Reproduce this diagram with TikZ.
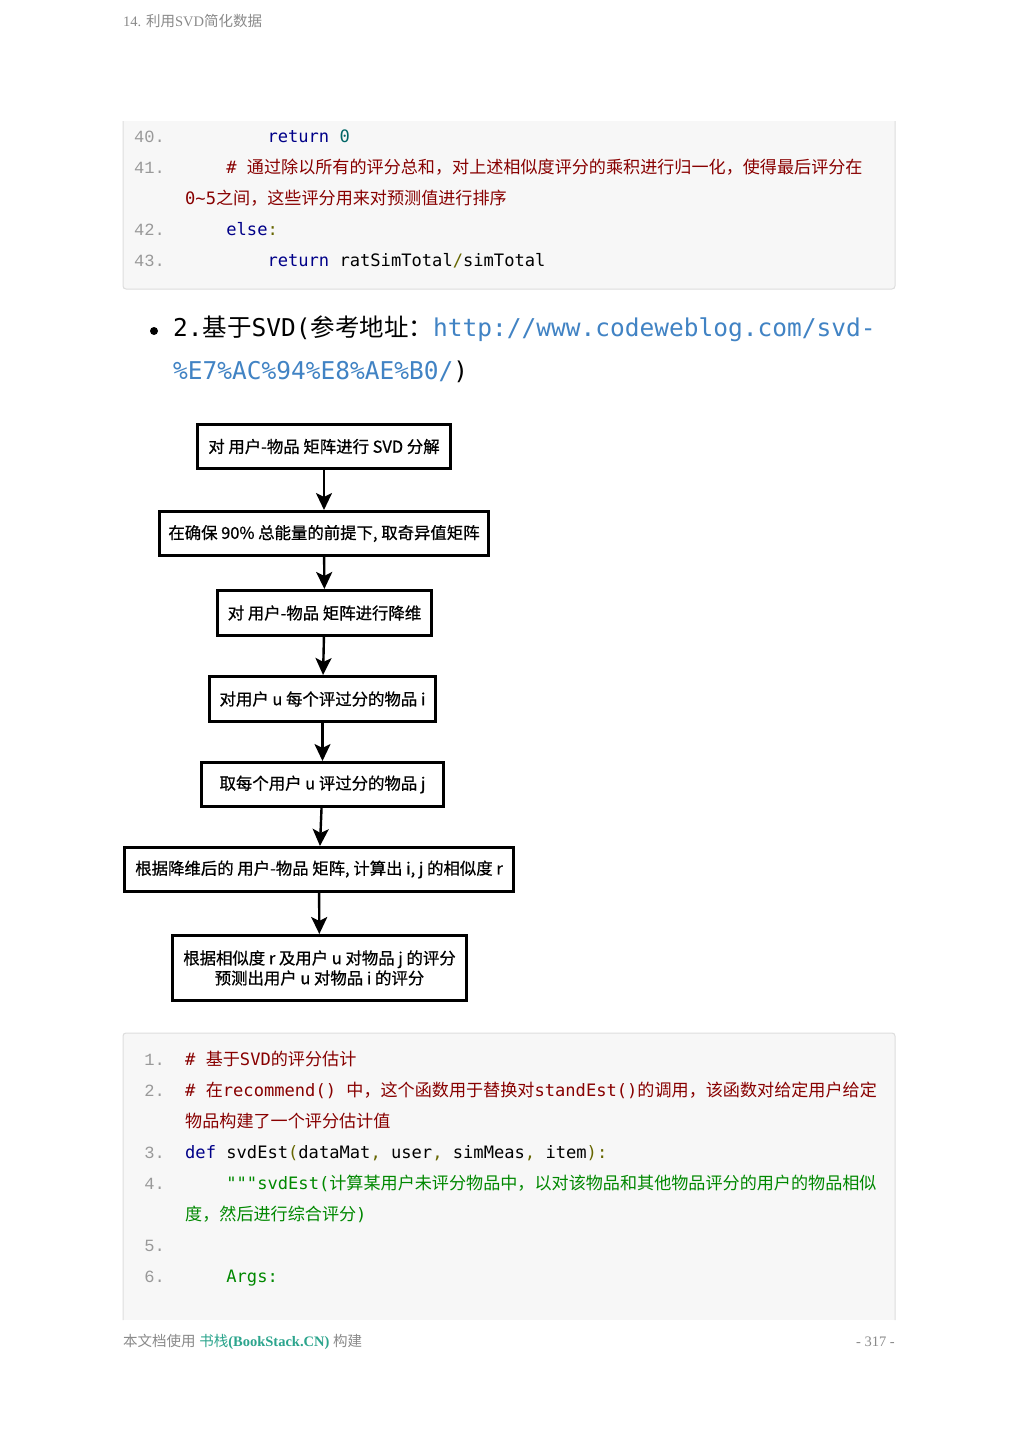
\documentclass[tikz,border=0pt]{standalone}
\usepackage{fontspec}
\setmainfont{Liberation Serif}
\newfontfamily\cjk{Noto Sans CJK SC}
\newfontfamily\flowfont[FakeBold=0.7]{Noto Sans CJK SC}
\newfontfamily\codefont{DejaVu Sans Mono}
\newfontfamily\numfont{Liberation Mono}
\usetikzlibrary{arrows.meta}
\definecolor{kwd}{HTML}{000088}
\definecolor{com}{HTML}{880000}
\definecolor{lit}{HTML}{006666}
\definecolor{pun}{HTML}{666600}
\definecolor{str}{HTML}{008800}
\definecolor{lnum}{HTML}{999999}
\definecolor{codebg}{HTML}{F7F7F7}
\definecolor{codeedge}{HTML}{DDDDDD}
\definecolor{linkblue}{HTML}{4183C4}
\definecolor{headgray}{HTML}{8A8A8A}
\definecolor{stackgreen}{HTML}{2CA58D}
\newcommand\kw[1]{\textcolor{kwd}{#1}}
\newcommand\cm[1]{\textcolor{com}{#1}}
\newcommand\lt[1]{\textcolor{lit}{#1}}
\newcommand\pn[1]{\textcolor{pun}{#1}}
\newcommand\st[1]{\textcolor{str}{#1}}
\tikzset{
  pagetext/.style={inner sep=0pt, text=headgray, font=\fontsize{14.5}{14.5}\selectfont},
  codetext/.style={anchor=base west, inner sep=0pt, font=\codefont\fontsize{17.1}{17.1}\selectfont},
  codeno/.style={anchor=base east, inner sep=0pt, text=lnum, font=\numfont\fontsize{17.1}{17.1}\selectfont},
  codebox/.style={draw=codeedge, line width=1pt, rounded corners=3pt},
  flowbox/.style={draw, line width=3pt, inner sep=0pt, align=center, font=\flowfont\fontsize{16.4}{20}\selectfont},
  flowarrow/.style={line width=2.4pt, -{Stealth[length=17pt,width=16pt,inset=4pt]}},
}

\begin{document}
\begin{tikzpicture}[x=1pt,y=-1pt]
  \useasboundingbox (0,0) rectangle (1019,1440);
  \fill[white] (0,0) rectangle (1019,1440);

  % page header
  \node[pagetext,anchor=base west] (head) at (123,27) {14. {\cjk 利用}SVD{\cjk 简化数据}};

  % code block, continued from the page before
  \fill[codebg] (123,121) rectangle (895,289);
  \draw[codebox] (123,121) -- (123,289) -- (895,289) -- (895,121);
  \node[codeno] (n40) at (165,142) {40.};
  \node[codeno] (n41) at (165,173) {41.};
  \node[codeno] (n42) at (165,235) {42.};
  \node[codeno] (n43) at (165,266) {43.};
  \node[codetext] (c40) at (267.3,142) {\kw{return} \lt{0}};
  \node[codetext] (c41) at (226.2,173) {\cm{\# {\cjk 通过除以所有的评分总和，对上述相似度评分的乘积进行归一化，使得最后评分在}}};
  \node[codetext] (c41b) at (185,204) {\cm{0\symbol{126}5{\cjk 之间，这些评分用来对预测值进行排序}}};
  \node[codetext] (c42) at (226.2,235) {\kw{else}\pn{:}};
  \node[codetext] (c43) at (267.3,266) {\kw{return} ratSimTotal\pn{/}simTotal};

  % list item
  \node[circle,fill,inner sep=0pt,minimum size=8pt] (dot) at (154,331) {};
  \node[anchor=base west,inner sep=0pt,font=\codefont\fontsize{24.5}{24.5}\selectfont] (item)
    at (173,336) {2.{\cjk 基于}SVD({\cjk 参考地址：}\textcolor{linkblue}{http://www.codeweblog.com/svd-}};
  \node[anchor=base west,inner sep=0pt,font=\codefont\fontsize{24.5}{24.5}\selectfont] (itemb)
    at (173,379) {\textcolor{linkblue}{\%E7\%AC\%94\%E8\%AE\%B0/})};

  % flow chart
  \node[flowbox,minimum width=253pt,minimum height=44pt] (svd) at (324,446.5) {对 用户-物品 矩阵进行 SVD 分解};
  \node[flowbox,minimum width=329pt,minimum height=44pt] (sigma) at (324,533.5) {在确保 90\% 总能量的前提下, 取奇异值矩阵};
  \node[flowbox,minimum width=214pt,minimum height=45pt] (reduce) at (324.5,613) {对 用户-物品 矩阵进行降维};
  \node[flowbox,minimum width=226pt,minimum height=45pt] (itemi) at (322.5,699) {对用户 u 每个评过分的物品 i};
  \node[flowbox,minimum width=242pt,minimum height=44pt] (itemj) at (322.5,784.5) {取每个用户 u 评过分的物品 j};
  \node[flowbox,minimum width=389pt,minimum height=44pt] (simr) at (319,869.5) {根据降维后的 用户-物品 矩阵, 计算出 i, j 的相似度 r};
  \node[flowbox,minimum width=294pt,minimum height=65pt] (pred) at (319.5,968) {根据相似度 r 及用户 u 对物品 j 的评分\\预测出用户 u 对物品 i 的评分};
  \draw[flowarrow] (svd) -- (sigma);
  \draw[flowarrow] (sigma) -- (reduce);
  \draw[flowarrow] (reduce) -- (itemi);
  \draw[flowarrow] (itemi) -- (itemj);
  \draw[flowarrow] (itemj) -- (simr);
  \draw[flowarrow] (simr) -- (pred);

  % code block, goes on to the next page
  \fill[codebg] (123,1033) rectangle (895,1320);
  \draw[codebox] (123,1320) -- (123,1033) -- (895,1033) -- (895,1320);
  \node[codeno] (n1) at (165,1065) {1.};
  \node[codeno] (n2) at (165,1096) {2.};
  \node[codeno] (n3) at (165,1158) {3.};
  \node[codeno] (n4) at (165,1189) {4.};
  \node[codeno] (n5) at (165,1251) {5.};
  \node[codeno] (n6) at (165,1282) {6.};
  \node[codetext] (c1) at (185,1065) {\cm{\# {\cjk 基于}SVD{\cjk 的评分估计}}};
  \node[codetext] (c2) at (185,1096) {\cm{\# {\cjk 在}recommend() {\cjk 中，这个函数用于替换对}standEst(){\cjk 的调用，该函数对给定用户给定}}};
  \node[codetext] (c2b) at (185,1127) {\cm{{\cjk 物品构建了一个评分估计值}}};
  \node[codetext] (c3) at (185,1158) {\kw{def} svdEst\pn{(}dataMat\pn{,} user\pn{,} simMeas\pn{,} item\pn{):}};
  \node[codetext] (c4) at (226.2,1189) {\st{"""svdEst({\cjk 计算某用户未评分物品中，以对该物品和其他物品评分的用户的物品相似}}};
  \node[codetext] (c4b) at (185,1220) {\st{{\cjk 度，然后进行综合评分})}};
  \node[codetext] (c6) at (226.2,1282) {\st{Args:}};

  % page footer
  \node[pagetext,anchor=base west] (foot) at (123,1346)
    {{\cjk 本文档使用} \textcolor{stackgreen}{{\cjk 书栈}\bfseries(BookStack.CN)} {\cjk 构建}};
  \node[pagetext,anchor=base east] (pageno) at (895,1346) {- 317 -};
\end{tikzpicture}
\end{document}
